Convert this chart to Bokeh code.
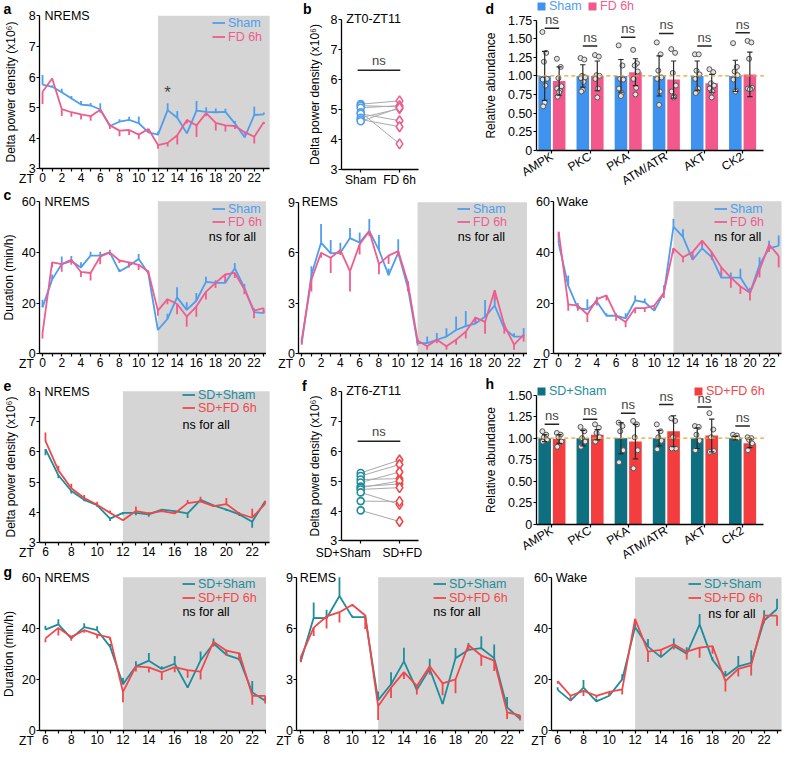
from bokeh.plotting import figure
from bokeh.layouts import row, column
from bokeh.models import (Range1d, FixedTicker, BoxAnnotation, Label, Legend,
                          LegendItem, PrintfTickFormatter)
from bokeh.core.properties import value
from bokeh.embed import file_html
from bokeh.resources import INLINE

# ---------------- data ----------------
zt_full = list(range(24))
zt_sd = list(range(6, 24))
day_ticks = list(range(0, 24, 2))
day_minor = list(range(1, 24, 2))
sd_ticks = list(range(6, 24, 2))
sd_minor = list(range(7, 24, 2))

# a: delta power NREMS (Sham vs FD 6h)
a_sham = [5.75, 5.68, 5.50, 5.30, 5.10, 5.07, 4.94, 4.40, 4.54, 4.60, 4.49, 4.19,
          4.12, 4.92, 4.67, 4.16, 4.90, 4.86, 4.85, 4.86, 4.48, 4.03, 4.76, 4.78]
a_sham_err = [0.32, 0.05, 0.12, 0.08, 0.12, 0.08, 0.20, 0.05, 0.08, 0.10, 0.22, 0.05,
              0.10, 0.22, 0.22, 0.05, 0.32, 0.15, 0.12, 0.10, 0.08, 0.05, 0.27, 0.06]
a_fd = [5.52, 5.95, 4.95, 4.85, 4.78, 4.72, 4.93, 4.42, 4.25, 4.27, 4.12, 4.30,
        3.78, 3.85, 4.10, 4.60, 4.42, 4.82, 4.50, 4.42, 4.40, 4.20, 4.05, 4.53]
a_fd_err = [0.40, 0.05, 0.22, 0.15, 0.17, 0.15, 0.10, 0.12, 0.18, 0.16, 0.15, 0.10,
            0.12, 0.12, 0.30, 0.12, 0.38, 0.10, 0.25, 0.20, 0.10, 0.08, 0.22, 0.06]

# b: ZT0-ZT11 paired
b_sham = [5.17, 5.12, 5.05, 4.90, 4.85, 4.72, 4.66, 4.60]
b_fd = [5.28, 5.08, 5.12, 3.85, 4.62, 5.02, 4.42, 5.05]
b_ns = 6.3

# c: durations
cn_sham = [18.3, 29.2, 35.3, 36.5, 34.0, 38.6, 38.6, 39.9, 32.4, 34.6, 37.3, 31.8,
           9.4, 13.8, 22.2, 17.3, 20.9, 28.3, 27.9, 27.9, 33.7, 26.0, 16.4, 16.0]
cn_sham_err = [3, 2, 3, 2, 2, 1.5, 1.5, 1, 1, 1, 2, 1, 1, 2, 4, 3, 3, 2, 1, 1, 2, 1.5, 1.5, 1]
cn_fd = [8.1, 36.0, 35.3, 37.0, 32.2, 31.8, 38.2, 39.9, 36.7, 36.0, 35.0, 32.4,
         17.0, 21.5, 19.6, 14.7, 18.6, 24.4, 27.9, 31.2, 31.8, 25.4, 17.0, 18.0]
cn_fd_err = [2, 2, 3, 2, 2, 3, 3, 1, 1, 2, 2, 1, 2, 2, 4, 4, 4, 3, 2, 3, 2, 2, 3, 2]

cr_sham = [0.64, 4.70, 6.60, 5.96, 6.00, 6.87, 6.60, 7.30, 6.16, 4.67, 6.00, 3.93,
           0.64, 0.64, 0.84, 1.03, 1.42, 1.65, 1.80, 2.20, 2.87, 1.50, 1.03, 1.03]
cr_sham_err = [0.3, 0.5, 1.1, 0.8, 0.6, 0.6, 0.6, 0.7, 0.9, 0.4, 0.8, 0.4,
               0.3, 0.4, 0.4, 0.5, 0.8, 0.9, 0.4, 1.0, 0.6, 0.3, 0.2, 0.5]
cr_fd = [0.84, 4.40, 6.00, 5.70, 6.16, 4.90, 6.50, 7.28, 5.33, 5.83, 6.10, 4.22,
         0.80, 0.45, 0.84, 0.45, 0.84, 1.32, 2.15, 1.90, 3.78, 1.70, 0.55, 1.13]
cr_fd_err = [0.3, 0.7, 0.3, 0.9, 0.3, 1.2, 0.6, 0.3, 0.6, 0.5, 0.3, 0.5,
             0.3, 0.2, 0.2, 0.2, 0.3, 0.4, 0.3, 0.7, 0.6, 0.5, 0.3, 0.4]

cw_sham = [43.4, 26.8, 18.0, 17.5, 20.5, 15.0, 15.0, 14.0, 21.0, 20.3, 17.0, 24.0,
           50.0, 46.0, 37.0, 41.5, 38.0, 30.0, 30.0, 30.0, 24.0, 35.0, 41.5, 42.5]
cw_sham_err = [4, 4, 2, 4, 2, 1, 1, 2, 2, 1.5, 1, 3, 3, 3, 2, 2, 2, 2, 2, 3.5, 2, 3, 3, 4]
cw_fd = [48.0, 19.5, 19.0, 15.5, 21.5, 23.0, 15.0, 12.5, 18.0, 18.0, 19.0, 24.0,
         41.5, 38.0, 40.0, 44.5, 40.0, 34.0, 30.0, 26.5, 24.0, 33.0, 43.0, 38.5]
cw_fd_err = [2, 2.5, 2, 3, 2.5, 2, 2, 2, 2, 1.5, 1.5, 2, 2, 2, 3, 2, 3, 3, 4, 3, 3, 3, 3, 4.5]

# d / h: relative abundance
genes = ["AMPK", "PKC", "PKA", "ATM/ATR", "AKT", "CK2"]
d_sham_mean = [1.00, 1.00, 1.00, 1.00, 1.00, 1.00]
d_sham_sd = [0.33, 0.15, 0.22, 0.27, 0.20, 0.21]
d_fd_mean = [0.93, 1.00, 1.05, 0.95, 0.90, 1.02]
d_fd_sd = [0.19, 0.20, 0.18, 0.25, 0.12, 0.30]
d_sham_pts = [[1.59, 1.31, 1.19, 0.96, 0.95, 0.87, 0.64, 0.59],
              [1.24, 1.22, 1.00, 0.98, 0.97, 0.92, 0.81, 0.79],
              [1.41, 1.14, 0.96, 0.95, 0.83, 0.77, 0.73],
              [1.45, 1.29, 1.07, 0.98, 0.96, 0.79, 0.61],
              [1.29, 1.29, 1.07, 1.02, 0.96, 0.83, 0.79, 0.77],
              [1.44, 1.12, 1.06, 1.01, 0.95, 0.80, 0.79]]
d_fd_pts = [[1.23, 1.12, 0.97, 0.86, 0.83, 0.80, 0.78, 0.72],
            [1.28, 1.26, 1.01, 1.00, 0.96, 0.83, 0.71],
            [1.35, 1.17, 1.14, 1.06, 0.96, 0.84, 0.75],
            [1.36, 1.31, 1.04, 0.87, 0.79, 0.72, 0.71],
            [1.09, 1.05, 0.90, 0.87, 0.83, 0.79, 0.71],
            [1.47, 1.45, 1.23, 0.84, 0.83, 0.82, 0.82]]
d_ns = [1.64, 1.40, 1.52, 1.57, 1.40, 1.58]
d_ticks = [0, 0.25, 0.5, 0.75, 1.0, 1.25, 1.5, 1.75]

h_sham_mean = [1.00, 1.00, 1.00, 1.00, 1.00, 1.00]
h_sham_sd = [0.04, 0.09, 0.18, 0.09, 0.12, 0.02]
h_fd_mean = [0.99, 1.04, 0.96, 1.08, 1.03, 0.94]
h_fd_sd = [0.05, 0.06, 0.20, 0.18, 0.19, 0.05]
h_sham_pts = [[1.08, 1.04, 1.01, 0.98, 0.96],
              [1.13, 1.08, 1.00, 0.96, 0.90],
              [1.18, 1.14, 1.08, 0.86, 0.72],
              [1.16, 1.08, 1.01, 0.97, 0.87],
              [1.14, 1.13, 1.04, 0.97, 0.86],
              [1.04, 1.03, 1.01, 1.00]]
h_fd_pts = [[1.06, 1.04, 1.01, 0.96, 0.90],
            [1.16, 1.12, 1.06, 1.01, 0.96],
            [1.20, 1.16, 1.01, 0.86, 0.65],
            [1.23, 1.20, 1.01, 0.88, 0.88],
            [1.29, 1.10, 1.01, 0.85, 0.84],
            [1.01, 1.00, 0.98, 0.94, 0.86]]
h_ns = [1.16, 1.22, 1.29, 1.39, 1.36, 1.14]
h_ticks = [0, 0.25, 0.5, 0.75, 1.0, 1.25, 1.5]

# e: delta power after SD
e_sham = [6.09, 5.23, 4.71, 4.42, 4.24, 3.80, 3.99, 3.99, 3.94, 4.10, 4.05, 3.97,
          4.42, 4.24, 4.10, 3.94, 3.70, 4.37]
e_sham_err = [0.20, 0.10, 0.08, 0.05, 0.05, 0.08, 0.05, 0.08, 0.08, 0.05, 0.08, 0.15,
              0.08, 0.05, 0.05, 0.05, 0.20, 0.08]
e_fd = [6.36, 5.39, 4.80, 4.48, 4.26, 3.99, 3.75, 4.05, 3.97, 4.05, 3.97, 4.31,
        4.37, 4.21, 4.28, 3.97, 3.83, 4.29]
e_fd_err = [0.28, 0.15, 0.15, 0.10, 0.10, 0.08, 0.04, 0.15, 0.05, 0.05, 0.05, 0.10,
            0.15, 0.05, 0.20, 0.05, 0.30, 0.10]

# f: ZT6-ZT11 paired
f_sham = [5.27, 5.17, 5.05, 4.95, 4.82, 4.78, 4.72, 4.62, 4.33, 4.02]
f_fd = [5.70, 5.55, 5.08, 5.30, 4.90, 5.00, 4.78, 4.22, 4.32, 3.65]
f_ns = 6.33

# g: durations after SD
gn_sham = [39.5, 41.6, 36.1, 40.5, 39.3, 32.9, 18.2, 25.2, 27.4, 24.2, 26.2, 16.9,
           27.5, 34.1, 29.7, 28.0, 15.0, 11.8]
gn_sham_err = [1.5, 2.0, 1.0, 1.5, 1.5, 1.0, 2.5, 2.0, 3.0, 1.0, 3.0, 1.0,
               3.5, 2.0, 2.0, 2.5, 4.5, 1.0]
gn_fd = [36.1, 40.2, 36.7, 39.3, 37.6, 36.4, 15.2, 25.2, 24.8, 22.9, 24.9, 23.7,
         23.1, 34.8, 31.3, 30.3, 13.7, 13.7]
gn_fd_err = [1.5, 3.0, 1.5, 1.0, 1.5, 1.0, 4.0, 2.0, 2.0, 3.0, 2.0, 3.0,
             3.0, 2.0, 2.0, 3.0, 3.5, 3.0]

gr_sham = [4.07, 6.62, 6.60, 7.90, 6.66, 6.66, 1.80, 2.73, 4.07, 2.40, 3.63, 1.57,
           4.26, 4.74, 4.84, 4.26, 1.38, 0.71]
gr_sham_err = [0.1, 0.9, 0.5, 1.1, 0.1, 0.1, 0.5, 0.7, 0.8, 0.2, 0.6, 0.1,
               0.6, 0.4, 0.7, 0.8, 0.6, 0.2]
gr_fd = [4.32, 6.05, 6.70, 6.95, 7.39, 6.76, 1.44, 2.53, 3.44, 2.63, 3.78, 2.78,
         3.01, 5.03, 4.41, 4.11, 1.09, 0.90]
gr_fd_err = [0.3, 0.5, 0.7, 0.6, 0.1, 0.8, 0.8, 0.6, 0.4, 0.5, 0.5, 0.7,
             0.8, 0.3, 0.6, 0.6, 0.4, 0.3]

gw_sham = [16.0, 11.8, 16.9, 11.5, 13.7, 20.1, 40.5, 32.9, 28.8, 33.1, 30.1, 41.6,
           27.7, 21.4, 25.2, 26.5, 43.1, 47.6]
gw_sham_err = [1.0, 1.0, 3.0, 1.0, 1.0, 2.0, 2.0, 3.0, 1.0, 3.0, 2.5, 4.0,
               1.0, 2.0, 4.0, 5.0, 4.0, 4.0]
gw_fd = [19.4, 13.7, 15.6, 13.7, 15.2, 16.2, 43.7, 30.9, 31.6, 33.8, 30.9, 32.5,
         33.1, 19.4, 24.2, 25.6, 45.0, 45.0]
gw_fd_err = [1.0, 2.0, 2.0, 1.0, 1.5, 2.0, 2.0, 4.0, 2.0, 2.0, 3.0, 4.0,
             3.0, 4.0, 3.0, 4.0, 3.0, 4.0]

dp_ticks = [3, 4, 5, 6, 7, 8]
dur_ticks = [0, 20, 40, 60]
rem_ticks = [0, 3, 6, 9]

# ---------------- style ----------------
FONT = "Liberation Sans"
BLUE = "#4f9ded"
PINK = "#ee5d8e"
BLUE_BAR = "#3f93ee"
PINK_BAR = "#f2588b"
TEAL = "#1f8c9b"
RED = "#f0484a"
TEAL_BAR = "#0d6f80"
RED_BAR = "#f43d3f"
SHADE = "#d5d5d5"
DASH = "#e8a030"
JIT = [-0.06, 0.04, -0.02, 0.06, -0.05, 0.02, 0.0, -0.04]

K = 0.979


def L(v):
    return int(round(v * K))


class Panel:
    """canvas: page rectangle of the figure; box: page rectangle of the axes box
    (reference pixels); xr / yr: data values at the edges of the axes box."""

    def __init__(self, canvas, box, xr, yr, ylabel_standoff=7):
        cx0, cy0, cx1, cy1 = canvas
        bx0, by0, bx1, by1 = box
        self.canvas = canvas
        self.box = box
        self.xr = xr
        self.yr = yr
        sx = (xr[1] - xr[0]) / (bx1 - bx0)
        sy = (yr[1] - yr[0]) / (by1 - by0)
        self.fx = (xr[0] - (bx0 - cx0) * sx, xr[1] + (cx1 - bx1) * sx)
        self.fy = (yr[0] - (cy1 - by1) * sy, yr[1] + (by0 - cy0) * sy)
        p = figure(width=L(cx1) - L(cx0), height=L(cy1) - L(cy0),
                   x_range=Range1d(*self.fx), y_range=Range1d(*self.fy),
                   output_backend="svg", toolbar_location=None,
                   min_border=0, min_border_left=0, min_border_right=0,
                   min_border_top=0, min_border_bottom=0)
        p.outline_line_color = None
        p.xgrid.visible = False
        p.ygrid.visible = False
        p.background_fill_color = "white"
        p.border_fill_color = "white"
        for ax in list(p.xaxis) + list(p.yaxis):
            ax.axis_line_color = "black"
            ax.axis_line_width = 1.3
            ax.major_tick_line_color = "black"
            ax.major_tick_line_width = 1.2
            ax.major_tick_out = 3
            ax.major_tick_in = 0
            ax.minor_tick_line_color = "black"
            ax.minor_tick_line_width = 1.2
            ax.minor_tick_out = 3
            ax.minor_tick_in = 0
            ax.major_label_text_font = FONT
            ax.major_label_text_color = "black"
            ax.major_label_standoff = 1
            ax.axis_label_text_font = FONT
            ax.axis_label_text_font_size = "12px"
            ax.axis_label_text_font_style = "normal"
            ax.axis_label_text_color = "black"
        p.yaxis.axis_label_standoff = ylabel_standoff
        p.xaxis.fixed_location = yr[0]
        p.yaxis.fixed_location = xr[0]
        p.xaxis.bounds = xr
        p.yaxis.bounds = yr
        p.xaxis.major_label_text_font_size = "12px"
        p.yaxis.major_label_text_font_size = "12.5px"
        self.p = p

    def dx(self, px):
        cx0, cy0, cx1, cy1 = self.canvas
        return self.fx[0] + (px - cx0) / (cx1 - cx0) * (self.fx[1] - self.fx[0])

    def dy(self, py):
        cx0, cy0, cx1, cy1 = self.canvas
        return self.fy[1] - (py - cy0) / (cy1 - cy0) * (self.fy[1] - self.fy[0])

    def text(self, px, py, txt, size=12, color="black", align="left",
             baseline="middle", bold=False):
        self.p.add_layout(Label(x=self.dx(px), y=self.dy(py), text=txt,
                                text_font=FONT, text_font_size=f"{size}px",
                                text_color=color, text_align=align,
                                text_baseline=baseline,
                                text_font_style="bold" if bold else "normal"))

    def legend(self, r, label, color, px, pyc, gw=13, gh=13):
        cx0, cy0, cx1, cy1 = self.canvas
        vx = L(px) - L(cx0)
        vy = L(cy1) - L(pyc) - gh / 2
        lg = Legend(items=[LegendItem(label=value(label), renderers=[r])],
                    location=(vx, vy), orientation="vertical",
                    label_text_color=color, label_text_font=FONT,
                    label_text_font_size="12.5px", glyph_width=gw, glyph_height=gh,
                    label_height=gh, label_standoff=3, padding=0, margin=0,
                    spacing=0, border_line_color=None, background_fill_alpha=0)
        self.p.add_layout(lg)


def draw_series(p, x, m, e, color, up):
    r = p.line(x=x, y=m, line_color=color, line_width=1.8)
    tips = [a + b if up else a - b for a, b in zip(m, e)]
    p.segment(x0=x, y0=m, x1=x, y1=tips, line_color=color, line_width=1.8)
    return r


def time_panel(P, x, series, xt, xm, yt, ylabel, title, tpos, lpos, nspos):
    p = P.p
    p.add_layout(BoxAnnotation(left=12, right=P.xr[1], bottom=P.yr[0], top=P.yr[1],
                               fill_color=SHADE, fill_alpha=1.0,
                               line_color=None, level="underlay"))
    rs = []
    for m, e, color, up, name in series:
        rs.append((draw_series(p, x, m, e, color, up), name, color))
    p.xaxis.ticker = FixedTicker(ticks=xt, minor_ticks=xm)
    p.yaxis.ticker = FixedTicker(ticks=yt)
    if ylabel:
        p.yaxis.axis_label = ylabel
    P.text(tpos[0], tpos[1], title, size=12.5)
    for k, (r, name, color) in enumerate(rs):
        P.legend(r, name, color, lpos[0], lpos[1] + 14 * k)
    if nspos:
        P.text(nspos[0], nspos[1], "ns for all", size=12.5)
    P.text(P.box[0] - 6, P.box[3] + 10.5, "ZT", size=12, align="right")


def pair_panel(P, s, f, cs, cf, title, tpos, ns_y):
    p = P.p
    n = len(s)
    p.segment(x0=[0] * n, y0=s, x1=[1] * n, y1=f, line_color="#a9a9a9", line_width=1)
    p.scatter([0] * n, s, marker="circle", size=7, line_color=cs,
              fill_color="white", line_width=1.6)
    p.scatter([1] * n, f, marker="diamond", size=10, line_color=cf,
              fill_color="white", line_width=1.6)
    p.segment(x0=[-0.08], y0=[ns_y], x1=[1.02], y1=[ns_y], line_color="#222222", line_width=1.5)
    p.add_layout(Label(x=0.47, y=ns_y, y_offset=2, text="ns", text_font=FONT,
                       text_font_size="13px", text_align="center", text_baseline="bottom"))
    p.xaxis.ticker = FixedTicker(ticks=[0, 1])
    p.yaxis.ticker = FixedTicker(ticks=dp_ticks)
    p.yaxis.axis_label = "Delta power density (x10\u2076)"
    P.text(tpos[0], tpos[1], title, size=12.5)


def bar_panel(P, m1, sd1, pts1, c1, m2, sd2, pts2, c2, ns_y, yt):
    p = P.p
    idx = list(range(len(genes)))
    off, bw, cap = 0.19, 0.33, 0.07
    x1 = [i - off for i in idx]
    x2 = [i + off for i in idx]
    r1 = p.vbar(x=x1, top=m1, width=bw, fill_color=c1, line_color=None)
    r2 = p.vbar(x=x2, top=m2, width=bw, fill_color=c2, line_color=None)
    for xs, m, sd, pts in ((x1, m1, sd1, pts1), (x2, m2, sd2, pts2)):
        lo = [a - b for a, b in zip(m, sd)]
        hi = [a + b for a, b in zip(m, sd)]
        px, py = [], []
        for xv, grp in zip(xs, pts):
            for k, v in enumerate(grp):
                px.append(xv + JIT[k % len(JIT)])
                py.append(v)
        p.scatter(px, py, marker="circle", size=5, fill_color="#e4e4e4",
                  line_color="#555555", line_width=1)
        p.segment(x0=xs, y0=lo, x1=xs, y1=hi, line_color="#2a2a2a", line_width=1.2)
        for yy in (lo, hi):
            p.segment(x0=[v - cap for v in xs], y0=yy, x1=[v + cap for v in xs], y1=yy,
                      line_color="#2a2a2a", line_width=1.2)
    p.segment(x0=[P.xr[0]], y0=[1.0], x1=[P.xr[1]], y1=[1.0], line_color=DASH,
              line_dash="4 3", line_width=1.3)
    p.segment(x0=x1, y0=ns_y, x1=x2, y1=ns_y, line_color="#222222", line_width=1.5)
    for i, y in zip(idx, ns_y):
        p.add_layout(Label(x=i, y=y, y_offset=1, text="ns", text_font=FONT,
                           text_font_size="13px", text_align="center",
                           text_baseline="bottom"))
    p.xaxis.ticker = FixedTicker(ticks=idx)
    p.xaxis.major_label_overrides = {i: g for i, g in zip(idx, genes)}
    p.xaxis.major_label_orientation = 0.55
    p.xaxis.major_label_standoff = 2
    p.xaxis.major_label_text_font_size = "12px"
    p.yaxis.ticker = FixedTicker(ticks=yt)
    p.yaxis.formatter = PrintfTickFormatter(format="%.2f")
    p.yaxis.major_label_overrides = {0: "0"}
    p.yaxis.axis_label = "Relative abundance"
    return r1, r2


# ---------------- row 1 ----------------
A = Panel((0, 0, 283, 191), (40, 15.6, 275, 172), (-0.3, 23.6), (3, 8), ylabel_standoff=8)
time_panel(A, zt_full,
           [(a_sham, a_sham_err, BLUE, True, "Sham"), (a_fd, a_fd_err, PINK, False, "FD 6h")],
           day_ticks, day_minor, dp_ticks, "Delta power density (x10\u2076)",
           "NREMS", (45, 16), (217, 24), None)
A.p.add_layout(Label(x=13, y=a_sham[13] + a_sham_err[13], y_offset=1, text="*",
                     text_font=FONT, text_font_size="17px", text_align="center",
                     text_baseline="bottom"))
A.text(3, 9, "a", size=14, bold=True)

B = Panel((283, 0, 450, 191), (348, 19, 427, 172.5), (-0.5, 1.5), (3, 8), ylabel_standoff=6)
pair_panel(B, b_sham, b_fd, BLUE, PINK, "ZT0-ZT11", (353, 19), b_ns)
B.p.xaxis.major_label_overrides = {0: "Sham", 1: "FD 6h"}
B.text(309, 9, "b", size=14, bold=True)

D = Panel((450, 0, 800, 191), (547, 20, 780, 153), (-0.41, 5.56), (0, 1.75))
rd1, rd2 = bar_panel(D, d_sham_mean, d_sham_sd, d_sham_pts, BLUE_BAR,
                     d_fd_mean, d_fd_sd, d_fd_pts, PINK_BAR, d_ns, d_ticks)
D.legend(rd1, "Sham", BLUE, 547, 8, gw=10, gh=10)
D.legend(rd2, "FD 6h", PINK, 600, 8, gw=10, gh=10)
D.text(495, 9, "d", size=14, bold=True)

# ---------------- row 2 ----------------
C1 = Panel((0, 191, 272, 381), (40, 205, 272, 361), (-0.3, 23.3), (0, 60), ylabel_standoff=3)
time_panel(C1, zt_full,
           [(cn_sham, cn_sham_err, BLUE, True, "Sham"), (cn_fd, cn_fd_err, PINK, False, "FD 6h")],
           day_ticks, day_minor, dur_ticks, "Duration (min/h)",
           "NREMS", (45, 206), (217, 213), (213, 242))
C1.text(3, 199, "c", size=14, bold=True)

C2 = Panel((272, 191, 538, 381), (305, 206, 538, 361), (-0.3, 23.4), (0, 9))
time_panel(C2, zt_full,
           [(cr_sham, cr_sham_err, BLUE, True, "Sham"), (cr_fd, cr_fd_err, PINK, False, "FD 6h")],
           day_ticks, day_minor, rem_ticks, None,
           "REMS", (308, 206), (467, 213), (467, 242))

C3 = Panel((538, 191, 800, 381), (565, 205, 798, 361), (-0.5, 23.3), (0, 60))
time_panel(C3, zt_full,
           [(cw_sham, cw_sham_err, BLUE, True, "Sham"), (cw_fd, cw_fd_err, PINK, False, "FD 6h")],
           day_ticks, day_minor, dur_ticks, None,
           "Wake", (568, 206), (729, 213), (729, 242))

# ---------------- row 3 ----------------
E = Panel((0, 381, 282, 575), (40, 399, 275, 554), (5.55, 23.35), (3, 8), ylabel_standoff=8)
time_panel(E, zt_sd,
           [(e_sham, e_sham_err, TEAL, False, "SD+Sham"), (e_fd, e_fd_err, RED, True, "SD+FD 6h")],
           sd_ticks, sd_minor, dp_ticks, "Delta power density (x10\u2076)",
           "NREMS", (45, 400), (186, 403), (186, 434))
E.text(3, 394, "e", size=14, bold=True)

F = Panel((282, 381, 450, 575), (348, 399, 427, 552), (-0.5, 1.5), (3, 8), ylabel_standoff=6)
pair_panel(F, f_sham, f_fd, TEAL, RED, "ZT6-ZT11", (353, 399), f_ns)
F.p.xaxis.major_label_overrides = {0: "", 1: ""}
F.text(350, 564, "SD+Sham", size=12, align="center")
F.text(410, 564, "SD+FD", size=12, align="center")
F.text(308, 394, "f", size=14, bold=True)

H = Panel((450, 381, 800, 575), (547, 403, 780, 535), (-0.41, 5.56), (0, 1.5))
rh1, rh2 = bar_panel(H, h_sham_mean, h_sham_sd, h_sham_pts, TEAL_BAR,
                     h_fd_mean, h_fd_sd, h_fd_pts, RED_BAR, h_ns, h_ticks)
H.legend(rh1, "SD+Sham", TEAL, 547, 401, gw=10, gh=10)
H.legend(rh2, "SD+FD 6h", RED, 708, 401, gw=10, gh=10)
H.text(495, 392, "h", size=14, bold=True)

# ---------------- row 4 ----------------
G1 = Panel((0, 575, 272, 763), (40, 589, 272, 746), (5.55, 23.1), (0, 60), ylabel_standoff=3)
time_panel(G1, zt_sd,
           [(gn_sham, gn_sham_err, TEAL, True, "SD+Sham"), (gn_fd, gn_fd_err, RED, False, "SD+FD 6h")],
           sd_ticks, sd_minor, dur_ticks, "Duration (min/h)",
           "NREMS", (45, 590), (186, 597), (186, 625))
G1.text(3, 584, "g", size=14, bold=True)

G2 = Panel((272, 575, 535, 763), (303, 589, 535, 746), (5.7, 23.35), (0, 9))
time_panel(G2, zt_sd,
           [(gr_sham, gr_sham_err, TEAL, True, "SD+Sham"), (gr_fd, gr_fd_err, RED, False, "SD+FD 6h")],
           sd_ticks, sd_minor, rem_ticks, None,
           "REMS", (306, 590), (442, 597), (442, 625))

G3 = Panel((535, 575, 800, 763), (563, 589, 798, 746), (5.55, 23.35), (0, 60))
time_panel(G3, zt_sd,
           [(gw_sham, gw_sham_err, TEAL, True, "SD+Sham"), (gw_fd, gw_fd_err, RED, False, "SD+FD 6h")],
           sd_ticks, sd_minor, dur_ticks, None,
           "Wake", (567, 590), (703, 597), (723, 627))

layout = column(row(A.p, B.p, D.p), row(C1.p, C2.p, C3.p),
                row(E.p, F.p, H.p), row(G1.p, G2.p, G3.p))

open("out.html", "w").write(file_html(layout, INLINE))
